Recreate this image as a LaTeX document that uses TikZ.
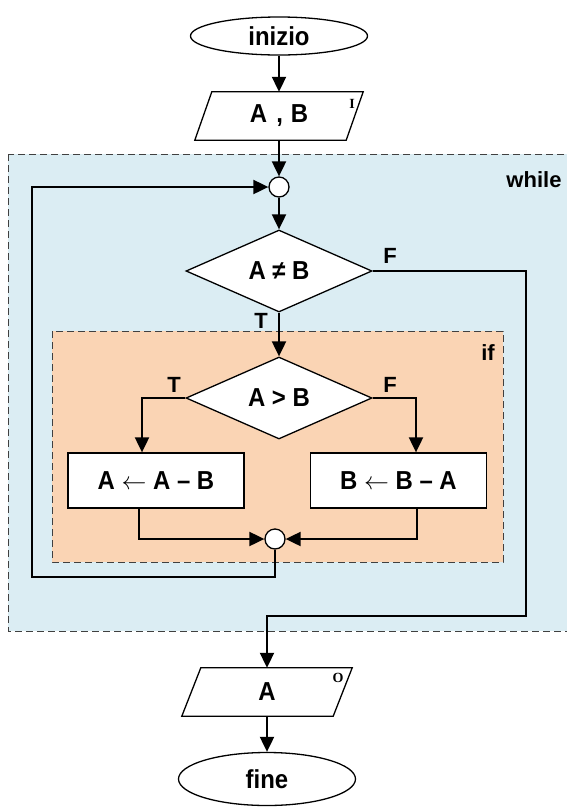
\documentclass[tikz,border=0pt]{standalone}
\usepackage{fontspec}
\setmainfont{Liberation Sans}
\newfontfamily\mainb{Liberation Sans}[FakeStretch=0.92]
\newfontfamily\serifb{Liberation Serif}
\usetikzlibrary{shapes.geometric,arrows.meta}
\definecolor{whilebg}{RGB}{219,237,243}
\definecolor{ifbg}{RGB}{250,212,180}
\begin{document}
\begin{tikzpicture}[x=1pt,y=-1pt,
 every node/.style={font=\mainb\fontsize{26}{30}\selectfont\bfseries},
 term/.style={ellipse,draw,line width=1.3pt,fill=white,minimum width=177pt,inner sep=0pt},
 io/.style={minimum width=151pt,minimum height=48pt,inner sep=0pt},
 proc/.style={rectangle,draw,line width=1.3pt,fill=white,minimum width=176pt,minimum height=55pt,inner sep=0pt},
 dec/.style={diamond,draw,line width=1.3pt,fill=white,minimum width=186pt,minimum height=82pt,inner sep=0pt,aspect=2.27},
 junc/.style={circle,draw,line width=1.3pt,fill=white,minimum size=20pt,inner sep=0pt},
 lbl/.style={font=\fontsize{22}{26}\selectfont\bfseries,inner sep=0pt},
 tag/.style={font=\serifb\fontsize{14}{16}\selectfont\bfseries,inner sep=0pt},
 arr/.style={line width=2pt,-{Triangle[length=15pt,width=14pt]}},
 shp/.style={draw,line width=1.3pt},
 region/.style={draw=black!75,line width=1pt,dash pattern=on 7pt off 4pt}]
\useasboundingbox (0,0) rectangle (567,807);
% regions
\path[region,fill=whilebg] (8,154) rectangle (590,631);
\path[region,fill=ifbg] (52,331) rectangle (503,562);
% nodes
\node[term,minimum height=38pt] (start) at (279,36) {inizio};
\node[io] (in) at (279,116) {A\hspace{0.35em},\hspace{0.3em}B};
\draw[shp] ([xshift=8.5pt]in.north west) -- ([xshift=8.5pt]in.north east) -- ([xshift=-8.5pt]in.south east) -- ([xshift=-8.5pt]in.south west) -- cycle;
\node[tag] (inTag) at (352,104) {I};
\node[junc] (c1) at (279,187) {};
\node[dec] (d1) at (279,271) {A ≠ B};
\node[dec] (d2) at (279,398) {A > B};
\node[proc] (bA) at (156,480.5) {A $\leftarrow$ A – B};
\node[proc] (bB) at (398.5,480.5) {B $\leftarrow$ B – A};
\node[junc] (c2) at (275,539) {};
\node[io] (out) at (267,692) {A};
\draw[shp] ([xshift=9.5pt]out.north west) -- ([xshift=9.5pt]out.north east) -- ([xshift=-9.5pt]out.south east) -- ([xshift=-9.5pt]out.south west) -- cycle;
\node[tag] (outTag) at (338,678) {O};
\node[term,minimum height=53pt] (stop) at (267,779) {fine};
% labels
\node[lbl] (fD1) at (390,256) {F};
\node[lbl] (tD1) at (261,321) {T};
\node[lbl] (tD2) at (174,385) {T};
\node[lbl] (fD2) at (390,385) {F};
\node[lbl] (whileLbl) at (534,180) {while};
\node[lbl] (ifLbl) at (488,353) {if};
% connectors
\coordinate (loopBL) at (32,577);
\coordinate (exitR) at (526,616);
\draw[arr] (start.south) -- (in.north);
\draw[arr] (in.south) -- (c1.north);
\draw[arr] (c1.south) -- (d1.north);
\draw[arr] (d1.south) -- (d2.north);
\draw[arr] (d2.west) -| ([xshift=-14pt]bA.north);
\draw[arr] (d2.east) -| ([xshift=17.5pt]bB.north);
\draw[arr] ([xshift=-17pt]bA.south) |- (c2.west);
\draw[arr] ([xshift=18.5pt]bB.south) |- (c2.east);
\draw[arr] (c2.south) |- (loopBL) |- (c1.west);
\draw[arr] (d1.east) -| (exitR) -| (out.north);
\draw[arr] (out.south) -- (stop.north);
\end{tikzpicture}
\end{document}
